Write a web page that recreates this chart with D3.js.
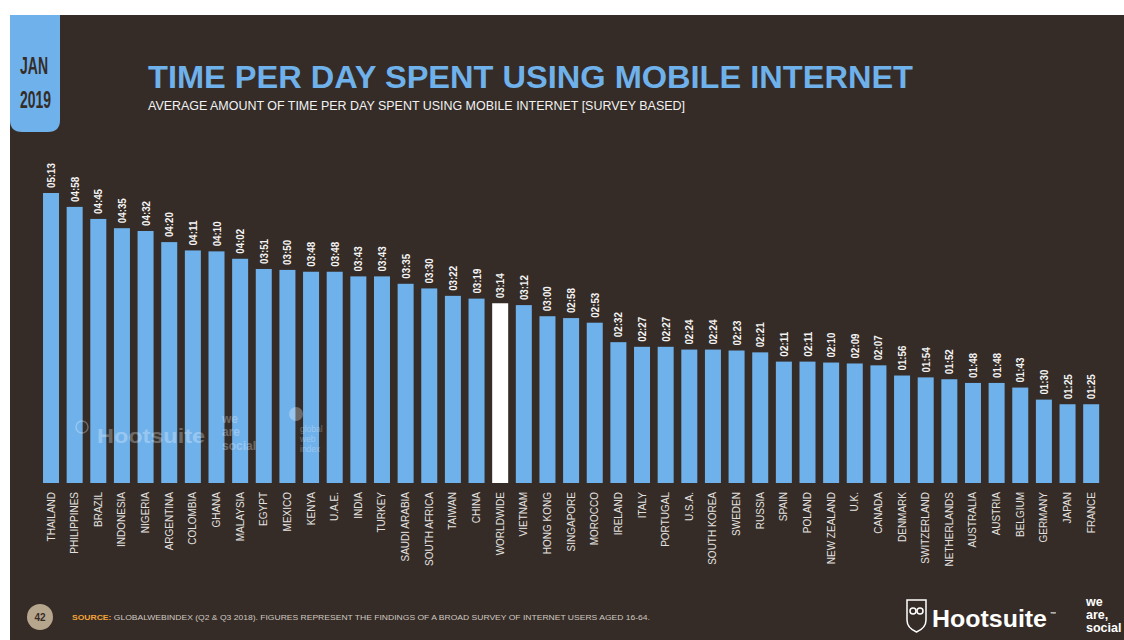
<!DOCTYPE html>
<html><head><meta charset="utf-8">
<script src="https://cdn.jsdelivr.net/npm/d3@7"></script>
<style>html,body{margin:0;padding:0;background:#fff;}svg{display:block;}</style>
</head><body>
<svg id="chart" width="1124" height="640"></svg>
<script>
const categories = ["THAILAND","PHILIPPINES","BRAZIL","INDONESIA","NIGERIA","ARGENTINA","COLOMBIA","GHANA","MALAYSIA","EGYPT","MEXICO","KENYA","U.A.E.","INDIA","TURKEY","SAUDI ARABIA","SOUTH AFRICA","TAIWAN","CHINA","WORLDWIDE","VIETNAM","HONG KONG","SINGAPORE","MOROCCO","IRELAND","ITALY","PORTUGAL","U.S.A.","SOUTH KOREA","SWEDEN","RUSSIA","SPAIN","POLAND","NEW ZEALAND","U.K.","CANADA","DENMARK","SWITZERLAND","NETHERLANDS","AUSTRALIA","AUSTRIA","BELGIUM","GERMANY","JAPAN","FRANCE"];
const timeLabels = ["05:13","04:58","04:45","04:35","04:32","04:20","04:11","04:10","04:02","03:51","03:50","03:48","03:48","03:43","03:43","03:35","03:30","03:22","03:19","03:14","03:12","03:00","02:58","02:53","02:32","02:27","02:27","02:24","02:24","02:23","02:21","02:11","02:11","02:10","02:09","02:07","01:56","01:54","01:52","01:48","01:48","01:43","01:30","01:25","01:25"];
const highlight = ["WORLDWIDE"];
const titleText = "TIME PER DAY SPENT USING MOBILE INTERNET";
const subtitleText = "AVERAGE AMOUNT OF TIME PER DAY SPENT USING MOBILE INTERNET [SURVEY BASED]";
const dateLines = ["JAN","2019"];
const sourceLabel = "SOURCE:";
const sourceText = " GLOBALWEBINDEX (Q2 & Q3 2018). FIGURES REPRESENT THE FINDINGS OF A BROAD SURVEY OF INTERNET USERS AGED 16-64.";
const pageNumber = "42";

const BG = "#352c27", BLUE = "#6fb1eb";
const minutes = timeLabels.map(t => { const [h,m] = t.split(":").map(Number); return h*60+m; });
const data = categories.map((c,i) => ({c, t: timeLabels[i], v: minutes[i]}));

const svg = d3.select("#chart");
svg.append("rect").attr("x",10).attr("y",15).attr("width",1114).attr("height",625).attr("fill",BG);

// date tab
const tab = d3.path();
tab.moveTo(10,15); tab.lineTo(60,15); tab.lineTo(60,120); tab.quadraticCurveTo(60,132,48,132);
tab.lineTo(22,132); tab.quadraticCurveTo(10,132,10,120); tab.closePath();
svg.append("path").attr("d",tab.toString()).attr("fill",BLUE);
svg.selectAll("text.date").data(dateLines).join("text").attr("class","date")
  .attr("x",20).attr("y",(d,i)=>74+i*34)
  .attr("font-family","Liberation Sans, sans-serif").attr("font-weight","bold")
  .attr("font-size",23).attr("fill",BG)
  .attr("textLength",(d,i)=>i===0?28:31).attr("lengthAdjust","spacingAndGlyphs").text(d=>d);

svg.append("text").attr("x",148).attr("y",88).attr("font-family","Liberation Sans, sans-serif")
  .attr("font-weight","bold").attr("font-size",31).attr("fill",BLUE)
  .attr("textLength",765).attr("lengthAdjust","spacingAndGlyphs").text(titleText);
svg.append("text").attr("x",148).attr("y",110).attr("font-family","Liberation Sans, sans-serif")
  .attr("font-size",12).attr("fill","#f2f2f2")
  .attr("textLength",537).attr("lengthAdjust","spacingAndGlyphs").text(subtitleText);

// scales
const x = d3.scaleBand().domain(categories).range([39.2,1103]).paddingInner(0.323).paddingOuter(0.1615);
const y = d3.scaleLinear().domain([0, 313]).range([483,193]);

const g = svg.append("g");
g.selectAll("rect.bar").data(data).join("rect").attr("class","bar")
  .attr("x",d=>x(d.c)).attr("width",x.bandwidth())
  .attr("y",d=>y(d.v)).attr("height",d=>y(0)-y(d.v))
  .attr("fill",d=>highlight.includes(d.c) ? "#ffffff" : BLUE);

// watermark
const wm = svg.append("g").attr("fill","#ffffff").attr("opacity",0.28)
  .attr("font-family","Liberation Sans, sans-serif").attr("font-weight","bold");
wm.append("text").attr("x",97).attr("y",443).attr("font-size",21).attr("textLength",108).attr("lengthAdjust","spacingAndGlyphs").text("Hootsuite");
wm.append("circle").attr("cx",82).attr("cy",427).attr("r",6).attr("fill","none").attr("stroke","#fff").attr("stroke-width",1.5);
[["we",423],["are",436],["social",450]].forEach(([t,yy])=>wm.append("text").attr("x",222).attr("y",yy).attr("font-size",12).text(t));
wm.append("circle").attr("cx",296).attr("cy",414).attr("r",7);
[["global",432],["web",442],["index",452]].forEach(([t,yy])=>wm.append("text").attr("x",300).attr("y",yy).attr("font-size",8.5).attr("font-weight","normal").text(t));

// value labels
g.selectAll("text.val").data(data).join("text").attr("class","val")
  .attr("transform",d=>`translate(${x(d.c)+x.bandwidth()/2+4},${y(d.v)-5}) rotate(-90)`)
  .attr("font-family","Liberation Sans, sans-serif").attr("font-weight","bold")
  .attr("font-size",11).attr("fill","#f4f4f4")
  .attr("textLength",25).attr("lengthAdjust","spacingAndGlyphs").text(d=>d.t);

// category labels
g.selectAll("text.cat").data(data).join("text").attr("class","cat")
  .attr("transform",d=>`translate(${x(d.c)+x.bandwidth()/2+3.5},492) rotate(-90)`)
  .attr("text-anchor","end").attr("font-family","Liberation Sans, sans-serif")
  .attr("font-size",10).attr("fill","#e4e2e0").text(d=>d.c);

// footer
svg.append("circle").attr("cx",40).attr("cy",617).attr("r",13).attr("fill","#b7a68e");
svg.append("text").attr("x",40).attr("y",621).attr("text-anchor","middle").attr("font-family","Liberation Sans, sans-serif")
  .attr("font-weight","bold").attr("font-size",10).attr("fill",BG).text(pageNumber);
const src = svg.append("text").attr("x",72).attr("y",620).attr("font-family","Liberation Sans, sans-serif")
  .attr("font-size",8).attr("fill","#cfc8c0").attr("textLength",578).attr("lengthAdjust","spacingAndGlyphs");
src.append("tspan").attr("fill","#f3a33a").attr("font-weight","bold").text(sourceLabel);
src.append("tspan").text(sourceText);

// logos
const logo = svg.append("g").attr("fill","#ffffff").attr("font-family","Liberation Sans, sans-serif").attr("font-weight","bold");
const sh = d3.path();
sh.moveTo(907,600); sh.lineTo(926,600); sh.lineTo(926,620); sh.quadraticCurveTo(926,628,916.5,632); sh.quadraticCurveTo(907,628,907,620); sh.closePath();
logo.append("path").attr("d",sh.toString()).attr("fill","none").attr("stroke","#fff").attr("stroke-width",1.5);
logo.append("circle").attr("cx",913).attr("cy",611).attr("r",3).attr("fill","none").attr("stroke","#fff").attr("stroke-width",1.5);
logo.append("circle").attr("cx",920).attr("cy",611).attr("r",3).attr("fill","none").attr("stroke","#fff").attr("stroke-width",1.5);
logo.append("text").attr("x",932).attr("y",627).attr("font-size",23).attr("textLength",115).attr("lengthAdjust","spacingAndGlyphs").text("Hootsuite");
logo.append("text").attr("x",1050).attr("y",616).attr("font-size",6).text("™");
[["we",606],["are,",619],["social",632]].forEach(([t,yy])=>logo.append("text").attr("x",1086).attr("y",yy).attr("font-size",12.5).text(t));
</script>
</body></html>
